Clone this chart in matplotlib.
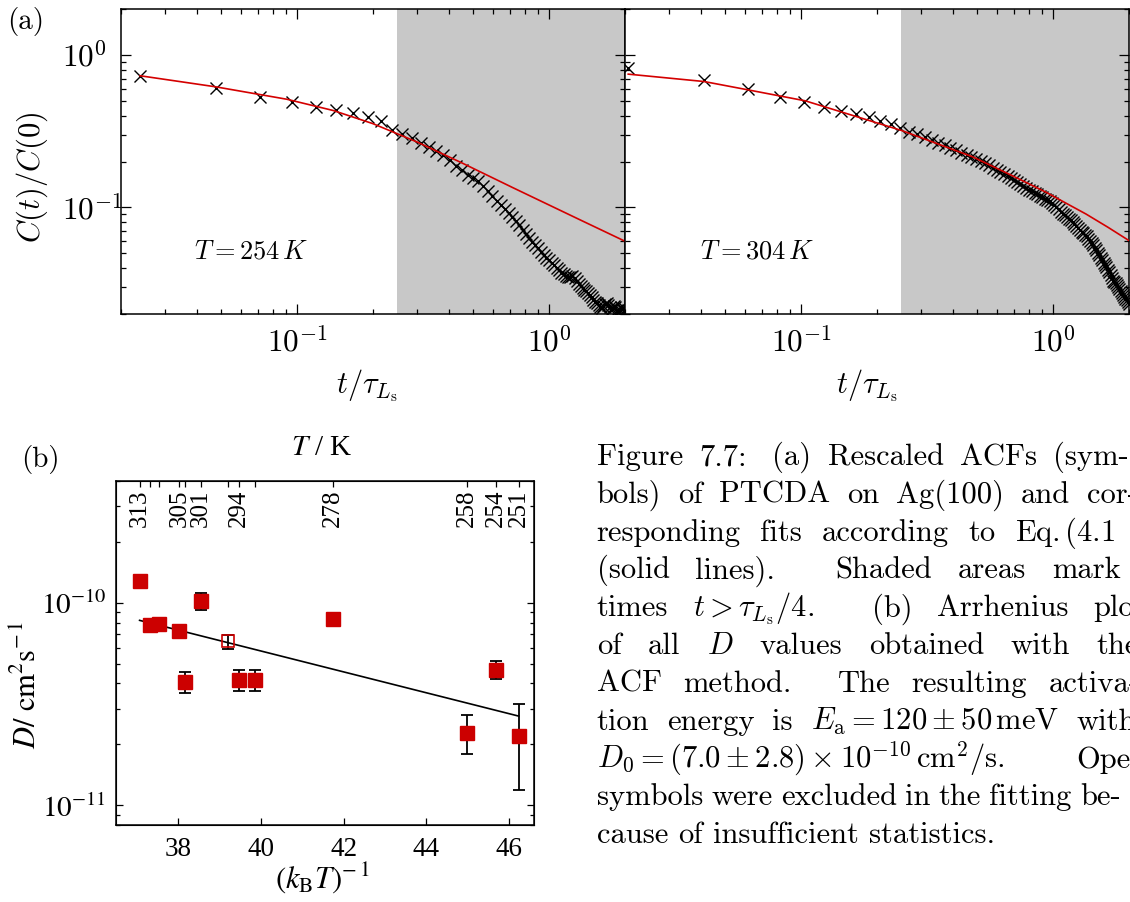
import matplotlib
matplotlib.use("Agg")
import matplotlib.pyplot as plt
from matplotlib.ticker import NullFormatter

plt.rcParams["font.family"] = "serif"
plt.rcParams["font.serif"] = ["cmr10"]
plt.rcParams["mathtext.fontset"] = "cm"
plt.rcParams["axes.unicode_minus"] = False
plt.rcParams["axes.formatter.use_mathtext"] = True

# ---------------- data: rescaled ACF, T = 254 K ----------------
t_254 = [0.0238, 0.0476, 0.0714, 0.0952, 0.1190, 0.1428, 0.1666, 0.1904, 0.2142, 0.2380,
         0.2618, 0.2856, 0.3094, 0.3332, 0.3570, 0.3808, 0.4046, 0.4284, 0.4522, 0.4760,
         0.4998, 0.5236, 0.5474, 0.5712, 0.5950, 0.6188, 0.6426, 0.6664, 0.6902, 0.7140,
         0.7378, 0.7616, 0.7854, 0.8092, 0.8330, 0.8568, 0.8806, 0.9044, 0.9282, 0.9520,
         0.9758, 0.9996, 1.0234, 1.0472, 1.0710, 1.0948, 1.1186, 1.1424, 1.1662, 1.1900,
         1.2138, 1.2376, 1.2614, 1.2852, 1.3090, 1.3328, 1.3566, 1.3804, 1.4042, 1.4280,
         1.4518, 1.4756, 1.4994, 1.5232, 1.5470, 1.5708, 1.5946, 1.6184, 1.6422, 1.6660,
         1.6898, 1.7136, 1.7374, 1.7612, 1.7850, 1.8088, 1.8326, 1.8564, 1.8802, 1.9040,
         1.9278, 1.9516, 1.9754, 1.9992]
acf_254 = [0.730, 0.605, 0.530, 0.490, 0.455, 0.432, 0.413, 0.393, 0.366, 0.323,
           0.305, 0.284, 0.265, 0.250, 0.236, 0.222, 0.204, 0.188, 0.175, 0.164,
           0.156, 0.148, 0.139, 0.129, 0.119, 0.110, 0.103, 0.097, 0.092, 0.087,
           0.082, 0.077, 0.0707, 0.0668, 0.0630, 0.0596, 0.0568, 0.0540, 0.0513, 0.0490,
           0.0468, 0.0450, 0.0432, 0.0416, 0.0400, 0.0386, 0.0373, 0.0364, 0.0357, 0.0349,
           0.0352, 0.0355, 0.0346, 0.0330, 0.0316, 0.0304, 0.0294, 0.0287, 0.0281, 0.0274,
           0.0266, 0.0257, 0.0248, 0.0241, 0.0235, 0.0228, 0.0222, 0.0219, 0.0224, 0.0232,
           0.0236, 0.0230, 0.0221, 0.0213, 0.0218, 0.0226, 0.0222, 0.0212, 0.0205, 0.0214,
           0.0223, 0.0217, 0.0209, 0.0215]
fit_t_254 = [0.0238, 0.0474, 0.091, 0.139, 0.2, 0.3, 0.45, 0.716, 1.314, 2.0]
fit_acf_254 = [0.73, 0.618, 0.512, 0.432, 0.354, 0.268, 0.196, 0.135, 0.0835, 0.060]

# ---------------- data: rescaled ACF, T = 304 K ----------------
t_304 = [0.0206, 0.0412, 0.0618, 0.0824, 0.1030, 0.1236, 0.1442, 0.1648, 0.1854, 0.2060,
         0.2266, 0.2472, 0.2678, 0.2884, 0.3090, 0.3296, 0.3502, 0.3708, 0.3914, 0.4120,
         0.4326, 0.4532, 0.4738, 0.4944, 0.5150, 0.5356, 0.5562, 0.5768, 0.5974, 0.6180,
         0.6386, 0.6592, 0.6798, 0.7004, 0.7210, 0.7416, 0.7622, 0.7828, 0.8034, 0.8240,
         0.8446, 0.8652, 0.8858, 0.9064, 0.9270, 0.9476, 0.9682, 0.9888, 1.0094, 1.0300,
         1.0506, 1.0712, 1.0918, 1.1124, 1.1330, 1.1536, 1.1742, 1.1948, 1.2154, 1.2360,
         1.2566, 1.2772, 1.2978, 1.3184, 1.3390, 1.3596, 1.3802, 1.4008, 1.4214, 1.4420,
         1.4626, 1.4832, 1.5038, 1.5244, 1.5450, 1.5656, 1.5862, 1.6068, 1.6274, 1.6480,
         1.6686, 1.6892, 1.7098, 1.7304, 1.7510, 1.7716, 1.7922, 1.8128, 1.8334, 1.8540,
         1.8746, 1.8952, 1.9158, 1.9364, 1.9570, 1.9776, 1.9982]
acf_304 = [0.826, 0.687, 0.597, 0.531, 0.488, 0.457, 0.431, 0.410, 0.389, 0.368,
           0.350, 0.330, 0.314, 0.302, 0.289, 0.276, 0.266, 0.256, 0.246, 0.237,
           0.229, 0.221, 0.214, 0.208, 0.201, 0.195, 0.189, 0.182, 0.176, 0.171,
           0.165, 0.160, 0.156, 0.152, 0.147, 0.143, 0.139, 0.135, 0.131, 0.129,
           0.125, 0.122, 0.119, 0.117, 0.114, 0.112, 0.110, 0.107, 0.104, 0.100,
           0.097, 0.094, 0.091, 0.0895, 0.087, 0.084, 0.0825, 0.080, 0.0775, 0.0755,
           0.0735, 0.0715, 0.0695, 0.0678, 0.0662, 0.0645, 0.0625, 0.0605, 0.0585, 0.0565,
           0.0545, 0.0525, 0.0505, 0.0487, 0.0468, 0.0452, 0.0435, 0.0420, 0.0405, 0.0390,
           0.0375, 0.0360, 0.0345, 0.0330, 0.0322, 0.0317, 0.0310, 0.0300, 0.0290, 0.0282,
           0.0273, 0.0266, 0.0259, 0.0252, 0.0246, 0.0240, 0.0234]
fit_t_304 = [0.0206, 0.0412, 0.0622, 0.1038, 0.251, 0.478, 0.68, 0.935, 1.15, 1.35, 1.65, 1.99]
fit_acf_304 = [0.748, 0.669, 0.588, 0.500, 0.319, 0.215, 0.163, 0.126, 0.1045, 0.0905, 0.0741, 0.0609]

t_shade = 0.25          # t > tau/4

# ---------------- data: Arrhenius plot ----------------
inv_kT = [37.07, 37.31, 37.55, 38.03, 38.17, 38.55, 39.20, 39.47, 39.87, 41.74, 44.97, 45.68, 46.23]
D_val = [1.29e-10, 7.76e-11, 7.85e-11, 7.24e-11, 4.09e-11, 1.02e-10, 6.46e-11,
         4.18e-11, 4.18e-11, 8.28e-11, 2.28e-11, 4.68e-11, 2.19e-11]
D_err_lo = [0, 0, 0, 0, 0.51e-11, 0.93e-11, 0.52e-11, 0.52e-11, 0.52e-11, 0, 0.48e-11, 0.45e-11, 1.00e-11]
D_err_hi = [0, 0, 0, 0, 0.49e-11, 1.00e-11, 0.46e-11, 0.50e-11, 0.50e-11, 0, 0.50e-11, 0.48e-11, 0.99e-11]
excluded = [False, False, False, False, False, False, True, False, False, False, False, False, False]
fit_inv_kT = [37.07, 46.23]
fit_D = [8.2e-11, 2.76e-11]
T_labels = [313, 305, 301, 294, 278, 258, 254, 251]
kB = 8.617333e-5   # eV/K

# ---------------- caption ----------------
caption_words = [
    ["Figure", "7.7:", "(a)", "Rescaled", "ACFs", "(sym-"],
    ["bols)", "of", "PTCDA", "on", "Ag(100)", "and", "cor-"],
    ["responding", "fits", "according", "to", r"Eq.$\,$(4.1"],
    ["(solid", "lines).", "Shaded", "areas", "mark"],
    ["times", r"$t > \tau_{L_\mathrm{s}}/4.$", "(b)", "Arrhenius", "plot"],
    ["of", "all", r"$D$", "values", "obtained", "with", "the"],
    ["ACF", "method.", "The", "resulting", "activa-"],
    ["tion", "energy", "is", r"$E_\mathrm{a} = 120 \pm 50\,\mathrm{meV}$", "with"],
    [r"$D_0 = (7.0 \pm 2.8) \times 10^{-10}\,\mathrm{cm}^2/\mathrm{s}.$", "Open"],
    ["symbols", "were", "excluded", "in", "the", "fitting", "be-"],
    ["cause", "of", "insufficient", "statistics."],
]
# start of the last word of each justified line (None: set ragged)
caption_last_x = [1053.3, 1086.7, 1015.0, 1051.7, 1093.3, 1096.7, 1048.3, 1076.7, 1076.7, 1080.0, None]

# ---------------- figure ----------------
W, H = 1130, 902
fig = plt.figure(figsize=(W / 100, H / 100), dpi=100)
fig.patch.set_facecolor("white")


def fx(px):
    return px / W


def fy(py):
    return 1 - py / H


def acf_panel(rect, t, c, ft, fc, show_ylabels):
    ax = fig.add_axes(rect)
    ax.set_xscale("log")
    ax.set_yscale("log")
    ax.axvspan(t_shade, 2.0, facecolor="#c8c8c8", edgecolor="none", zorder=0)
    ax.plot(t, c, ls="none", marker="x", ms=8.5, mew=1.0, color="k", zorder=2)
    ax.plot(ft, fc, color="#d40000", lw=1.2, zorder=3)
    ax.set_xlim(0.02, 2.0)
    ax.set_ylim(0.02, 2.0)
    ax.set_xticks([0.1, 1.0], [r"$10^{-1}$", r"$10^{0}$"], fontsize=22.5)
    if show_ylabels:
        ax.set_yticks([0.1, 1.0], [r"$10^{-1}$", r"$10^{0}$"], fontsize=22.5, ha="left")
    else:
        ax.set_yticks([0.1, 1.0], ["", ""])
    ax.xaxis.set_minor_formatter(NullFormatter())
    ax.yaxis.set_minor_formatter(NullFormatter())
    ax.tick_params(which="both", direction="in", top=True, right=True, width=0.9)
    ax.tick_params(which="major", length=7)
    ax.tick_params(which="minor", length=3.5)
    ax.tick_params(axis="x", pad=9)
    ax.tick_params(axis="y", pad=42.5)
    for s in ax.spines.values():
        s.set_linewidth(1.1)
    return ax


axL = acf_panel([fx(121), fy(314), 504 / W, 305 / H], t_254, acf_254, fit_t_254, fit_acf_254, True)
axR = acf_panel([fx(625), fy(314), 504 / W, 305 / H], t_304, acf_304, fit_t_304, fit_acf_304, False)

fig.text(fx(26), fy(22), "(a)", fontsize=21, ha="center", va="center")
fig.text(fx(32), fy(177), r"$C(t)/C(0)$", fontsize=22, rotation=90, ha="center", va="center")
fig.text(fx(367), fy(386), r"$t/\tau_{L_\mathrm{s}}$", fontsize=22, ha="center", va="center")
fig.text(fx(867), fy(386), r"$t/\tau_{L_\mathrm{s}}$", fontsize=22, ha="center", va="center")
fig.text(fx(251), fy(252), r"$T = 254\,K$", fontsize=19, ha="center", va="center")
fig.text(fx(757), fy(252), r"$T = 304\,K$", fontsize=19, ha="center", va="center")

# ---------------- panel (b) ----------------
axB = fig.add_axes([fx(116), fy(825), 418 / W, 344 / H])
axB.set_yscale("log")
red = "#cc0000"
for i in range(len(inv_kT)):
    axB.errorbar([inv_kT[i]], [D_val[i]], yerr=[[D_err_lo[i]], [D_err_hi[i]]], fmt="none",
                 ecolor="k", elinewidth=1.3, capsize=4, capthick=1.3, zorder=2)
axB.plot(fit_inv_kT, fit_D, color="k", lw=1.2, zorder=2)
xf = [x for x, e in zip(inv_kT, excluded) if not e]
yf = [y for y, e in zip(D_val, excluded) if not e]
xo = [x for x, e in zip(inv_kT, excluded) if e]
yo = [y for y, e in zip(D_val, excluded) if e]
axB.plot(xf, yf, ls="none", marker="s", ms=10.5, color=red, mec=red, zorder=3)
axB.plot(xo, yo, ls="none", marker="s", ms=9, mfc="none", mec=red, mew=1.2, zorder=3)
axB.set_xlim(36.5, 46.6)
axB.set_ylim(8e-12, 4e-10)
axB.set_xticks([38, 40, 42, 44, 46], ["38", "40", "42", "44", "46"],
               fontsize=19.5, family="Liberation Serif")
axB.set_yticks([1e-11, 1e-10], [r"$10^{-11}$", r"$10^{-10}$"], fontsize=21,
               family="Liberation Serif", math_fontfamily="stix")
axB.yaxis.set_minor_formatter(NullFormatter())
axB.tick_params(which="both", direction="in", right=True, top=False, width=0.9)
axB.tick_params(which="major", length=5)
axB.tick_params(which="minor", length=3)
axB.tick_params(axis="x", pad=9)
axB.tick_params(axis="y", pad=7)
for s in axB.spines.values():
    s.set_linewidth(1.1)

axT = axB.twiny()
axT.set_xlim(axB.get_xlim())
axT.set_xticks(inv_kT, [""] * len(inv_kT))
axT.tick_params(axis="x", direction="in", length=4, width=0.9, top=True, bottom=False)
for T in T_labels:
    axB.text(1.0 / (kB * T), 0.975, str(T), transform=axB.get_xaxis_transform(),
             rotation=90, ha="center", va="top", fontsize=18, family="Liberation Serif")

fig.text(fx(40), fy(460), "(b)", fontsize=21, ha="center", va="center")
fig.text(fx(322), fy(448), r"$T$ / K", fontsize=21, ha="center", va="center",
         family="Liberation Serif", math_fontfamily="stix")
fig.text(fx(27), fy(685), r"$D/\ \mathrm{cm}^2\mathrm{s}^{-\,1}$", fontsize=22, rotation=90,
         ha="center", va="center", math_fontfamily="stix")
fig.text(fx(322), fy(878), r"$(k_\mathrm{B}T)^{-\,1}$", fontsize=22, ha="center", va="center",
         math_fontfamily="stix")

# ---------------- caption text (TeX-like justified lines) ----------------
renderer = fig.canvas.get_renderer()
cap_size = 22
em_px = cap_size * 100 / 72
x0, base0, step = 596.7, 465.0, 37.83


def space_factor(word):
    w = word.rstrip("$")
    if w.endswith(".") or w.endswith(")."):
        return 3.0
    if w.endswith(":"):
        return 2.0
    return 1.0


for i, words in enumerate(caption_words):
    yb = fy(base0 + i * step)
    texts = [fig.text(0, yb, w, fontsize=cap_size, ha="left", va="baseline") for w in words]
    widths = [tx.get_window_extent(renderer).width for tx in texts]
    gaps = []
    for w in words[:-1]:
        f = space_factor(w)
        nat = 0.333 * em_px + (0.111 * em_px if f >= 2 else 0.0)
        gaps.append([nat, 0.167 * em_px * f])
    last = caption_last_x[i]
    if last is not None and gaps:
        avail = last - x0 - sum(widths[:-1])
        nat_sum = sum(g[0] for g in gaps)
        st_sum = sum(g[1] for g in gaps)
        if avail >= nat_sum:
            r = (avail - nat_sum) / st_sum
            sizes = [g[0] + g[1] * r for g in gaps]
        else:
            sizes = [avail / len(gaps)] * len(gaps)
    else:
        sizes = [0.333 * em_px] * len(gaps)
    x = x0
    for j, (tx, w) in enumerate(zip(texts, widths)):
        tx.set_x(fx(x))
        if j < len(sizes):
            x += w + sizes[j]

fig.savefig("out.png", dpi=100, facecolor="white")
